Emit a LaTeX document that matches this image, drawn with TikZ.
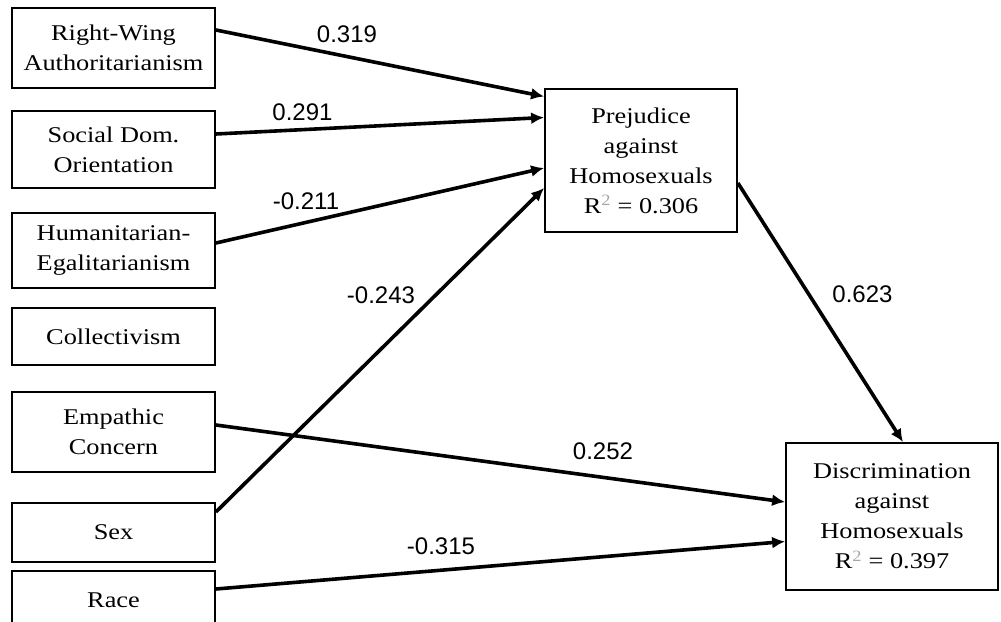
\documentclass[tikz,border=0pt]{standalone}
\usepackage{fontspec}
\setmainfont{Liberation Serif}[FakeStretch=1.17]
\newfontfamily\lblfont{Liberation Sans}
\usetikzlibrary{arrows.meta}
\begin{document}
\begin{tikzpicture}[x=1pt,y=-1pt,
  box/.style={draw, line width=1.8pt, align=center, inner sep=0pt,
    font=\fontsize{22.5}{30}\selectfont},
  arr/.style={line width=3.6pt, -{Latex[length=13pt,width=12pt]}},
  lbl/.style={font=\lblfont\fontsize{24}{28}\selectfont, inner sep=0pt}]
\useasboundingbox (0,0) rectangle (1001,621);
% left boxes
\node[box, minimum width=203pt, minimum height=80pt] (rwa) at (113.5,48) {Right-Wing\\Authoritarianism};
\node[box, minimum width=203pt, minimum height=77pt] (sdo) at (113.5,149.5) {Social Dom.\\Orientation};
\node[box, minimum width=203pt, minimum height=75pt] (he) at (113.5,250.5) {Humanitarian-\\Egalitarianism};
\node[box, minimum width=203pt, minimum height=57pt] (col) at (113.5,336.5) {Collectivism};
\node[box, minimum width=203pt, minimum height=80pt] (emp) at (113.5,432) {Empathic\\Concern};
\node[box, minimum width=203pt, minimum height=59pt] (sex) at (113.5,532.5) {Sex};
\node[box, minimum width=203pt, minimum height=58pt] (race) at (113.5,600) {Race};
% right boxes
\node[box, minimum width=192pt, minimum height=143pt] (prej) at (641,160.5)
  {Prejudice\\against\\Homosexuals\\R\textsuperscript{\color{black!35}2} = 0.306};
\node[box, minimum width=212pt, minimum height=147pt] (disc) at (892,516.5)
  {Discrimination\\against\\Homosexuals\\R\textsuperscript{\color{black!35}2} = 0.397};
% arrows
\draw[arr] ([yshift=18pt]rwa.east) -- ([yshift=64pt]prej.west);
\draw[arr] ([yshift=15.5pt]sdo.east) -- ([yshift=43pt]prej.west);
\draw[arr] ([yshift=7.5pt]he.east) -- ([yshift=-7.5pt]prej.west);
\draw[arr] ([yshift=20.5pt]sex.east) -- ([yshift=-27.5pt]prej.west);
\draw[arr] ([yshift=-22.5pt]prej.east) -- ([xshift=11pt]disc.north);
\draw[arr] ([yshift=7pt]emp.east) -- ([yshift=14.5pt]disc.west);
\draw[arr] ([yshift=11pt]race.east) -- ([yshift=-25pt]disc.west);
% labels
\node[lbl] (l1) at (347,34) {0.319};
\node[lbl] (l2) at (302.5,112.5) {0.291};
\node[lbl] (l3) at (306,201) {-0.211};
\node[lbl] (l4) at (381,295) {-0.243};
\node[lbl] (l5) at (862.5,294) {0.623};
\node[lbl] (l6) at (603,451) {0.252};
\node[lbl] (l7) at (441,546) {-0.315};
\end{tikzpicture}
\end{document}
